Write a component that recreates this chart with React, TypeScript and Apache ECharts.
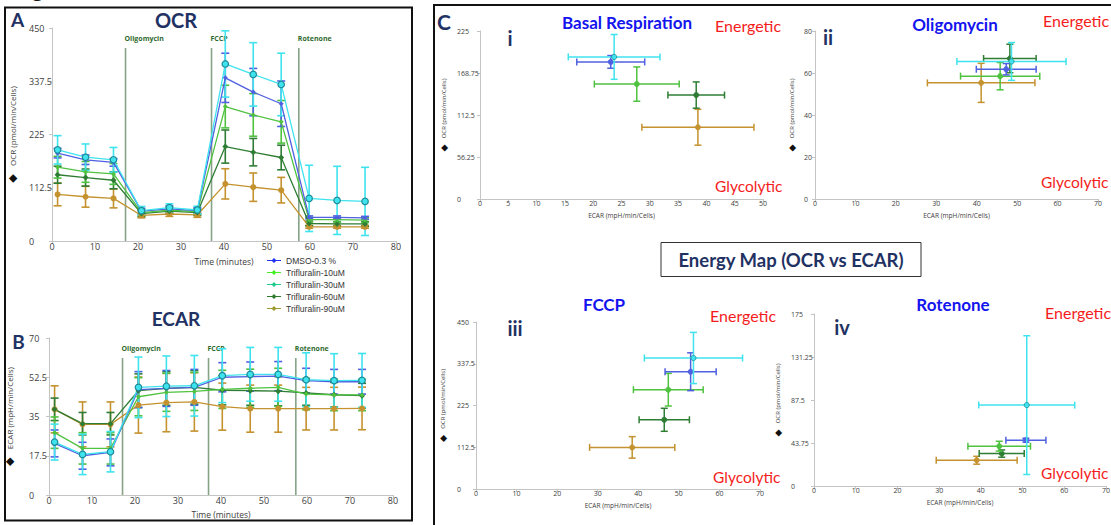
import React, { useEffect, useRef } from "react";
import * as echarts from "echarts";

// ---------- data ----------
const GROUPS = ["DMSO-0.3 %", "Trifluralin-10uM", "Trifluralin-30uM", "Trifluralin-60uM", "Trifluralin-90uM"];
const TIME = [1.3, 7.8, 14.3, 20.8, 27.3, 33.8, 40.3, 46.8, 53.3, 59.8, 66.3, 72.8];
const INJECTION_TIMES = [17.1, 37.1, 57.4];
const INJECTION_NAMES = ["Oligomycin", "FCCP", "Rotenone"];

const OCR_DMSO = [185.6, 171.6, 166, 63, 68, 64, 344.7, 314.6, 290, 50, 50, 49];
const OCR_10 = [156, 146, 141.7, 60, 65, 62, 284, 266.4, 251.8, 45, 45, 44];
const OCR_30 = [192.6, 177, 171.6, 64, 70.5, 65.5, 374, 352, 330.7, 90, 85.8, 83.7];
const OCR_60 = [140, 134, 128.3, 58, 63, 60, 199.5, 187.7, 176.4, 37, 36, 36];
const OCR_90 = [98.4, 93.5, 90, 54, 57, 55, 120.7, 113.7, 107.4, 30, 30, 30];

const OCR_ERR_DMSO = [10, 10, 8, 6, 6, 6, 52, 50, 48, 3, 3, 3];
const OCR_ERR_10 = [23, 22, 22, 6, 6, 6, 45, 45, 45, 5, 5, 5];
const OCR_ERR_30 = [30, 28, 26, 9, 8, 8, 70, 67, 66, 70, 72, 72];
const OCR_ERR_60 = [18, 18, 18, 6, 6, 6, 35, 29, 26, 5, 5, 5];
const OCR_ERR_90 = [24, 22, 20, 5, 5, 5, 32, 30, 27, 3, 3, 3];

const ECAR_DMSO = [23, 17.5, 19, 47, 47.5, 48, 52.5, 52.8, 53, 51, 50.5, 50.5];
const ECAR_10 = [27.8, 20.8, 20.8, 43.8, 45.8, 46.2, 47.1, 47.6, 48, 45, 44.6, 44.6];
const ECAR_30 = [23.6, 18.1, 19.3, 48, 48.5, 48.7, 53.2, 53.8, 53.8, 51.4, 51, 51.1];
const ECAR_60 = [38.2, 31.8, 31.8, 46.5, 47.5, 48, 46.7, 46.5, 46.3, 45.5, 44.7, 44.3];
const ECAR_90 = [38.2, 31.5, 31.5, 40.1, 41.2, 41.5, 39.4, 38.5, 38.5, 38.5, 38.5, 38.6];

const ECAR_ERR_DMSO = [6, 6, 6, 8, 8, 8, 6.5, 6.5, 6.5, 5.5, 5.5, 5.5];
const ECAR_ERR_10 = [7, 7, 7, 8.5, 8.5, 8.5, 8.5, 8.5, 8.5, 7, 7, 7];
const ECAR_ERR_30 = [8, 9, 9, 13.5, 13.5, 13.5, 12, 12, 12, 12, 12, 12];
const ECAR_ERR_60 = [5, 5, 5, 7.5, 7.5, 7.5, 6.5, 6.5, 6.5, 5.5, 5.5, 5.5];
const ECAR_ERR_90 = [10.5, 10, 10, 12.5, 13, 13, 10.5, 10.5, 10.5, 9.5, 9.5, 9.5];

// Energy map (group order as GROUPS)
const BASAL_ECAR = [23.1, 27.7, 23.7, 38.2, 38.5];
const BASAL_OCR = [183.6, 153.9, 190.3, 139.2, 96.1];
const BASAL_ECAR_ERR = [6, 7.5, 8.1, 5, 9.9];
const BASAL_OCR_ERR = [8.5, 23, 30, 17.6, 24];

const OLIGO_ECAR = [47.3, 45.8, 48.6, 48.2, 41.1];
const OLIGO_OCR = [61.8, 58.5, 65.5, 66.9, 55.3];
const OLIGO_ECAR_ERR = [7.4, 9.8, 13.5, 6.5, 13.3];
const OLIGO_OCR_ERR = [2.7, 6.5, 9, 6.8, 9.3];

const FCCP_ECAR = [52.9, 47.4, 53.6, 46.4, 38.5];
const FCCP_OCR = [316, 267.6, 353, 186.5, 112.1];
const FCCP_ECAR_ERR = [6.3, 8.6, 12.1, 6.2, 10.5];
const FCCP_OCR_ERR = [51, 44, 69, 31, 29];

const ROT_ECAR = [50.8, 44.4, 51, 45, 39];
const ROT_OCR = [46.6, 40.5, 82.3, 33, 26.2];
const ROT_ECAR_ERR = [4.8, 7.5, 11.5, 5.4, 9.7];
const ROT_OCR_ERR = [2, 5, 70.6, 3.7, 4];

const OCR_SERIES = [OCR_DMSO, OCR_10, OCR_30, OCR_60, OCR_90];
const OCR_ERRS = [OCR_ERR_DMSO, OCR_ERR_10, OCR_ERR_30, OCR_ERR_60, OCR_ERR_90];
const ECAR_SERIES = [ECAR_DMSO, ECAR_10, ECAR_30, ECAR_60, ECAR_90];
const ECAR_ERRS = [ECAR_ERR_DMSO, ECAR_ERR_10, ECAR_ERR_30, ECAR_ERR_60, ECAR_ERR_90];

// ---------- styles ----------
const COLORS = ["#4f60e0", "#4fc240", "#3fe3ee", "#2f7d34", "#c4922e"];
const LEGEND_COLORS = ["#2233ee", "#44ee22", "#22c98c", "#2d7a2d", "#9c9a2e"];
const SYMBOLS = ["diamond", "diamond", "circle", "diamond", "circle"];
const SYMBOL_SIZES = [5, 5, 6.5, 6, 6];
const DRAW_ORDER = [4, 3, 1, 0, 2];
const NAVY = "#1f3263";
const TITLE_BLUE = "#1414ee";
const RED = "#f41c1c";
const EVENT_GREEN = "#2f6b2f";
const FONT = "Open Sans";
const TFONT = "Lato";
const LEGEND_ICON = "path://M0,3.4 H14 V4.6 H0 Z M7,1.5 L9.5,4 L7,6.5 L4.5,4 Z";

const vErr = (color: string, cap: number) => (params: any, api: any) => {
  const x = api.value(0), y = api.value(1), e = api.value(2);
  const p1 = api.coord([x, y + e]);
  const p2 = api.coord([x, y - e]);
  const st = { stroke: color, lineWidth: 1.6 };
  return {
    type: "group",
    children: [
      { type: "line", shape: { x1: p1[0], y1: p1[1], x2: p2[0], y2: p2[1] }, style: st },
      { type: "line", shape: { x1: p1[0] - cap, y1: p1[1], x2: p1[0] + cap, y2: p1[1] }, style: st },
      { type: "line", shape: { x1: p2[0] - cap, y1: p2[1], x2: p2[0] + cap, y2: p2[1] }, style: st },
    ],
  };
};

const xyErr = (color: string, stroke: string) => (params: any, api: any) => {
  const x = api.value(0), y = api.value(1), ex = api.value(2), ey = api.value(3);
  const c = api.coord([x, y]);
  const l = api.coord([x - ex, y]);
  const r = api.coord([x + ex, y]);
  const t = api.coord([x, y + ey]);
  const b = api.coord([x, y - ey]);
  const cap = 3.5;
  const st = { stroke: color, lineWidth: 1.5 };
  return {
    type: "group",
    children: [
      { type: "line", shape: { x1: l[0], y1: l[1], x2: r[0], y2: r[1] }, style: st },
      { type: "line", shape: { x1: l[0], y1: l[1] - cap, x2: l[0], y2: l[1] + cap }, style: st },
      { type: "line", shape: { x1: r[0], y1: r[1] - cap, x2: r[0], y2: r[1] + cap }, style: st },
      { type: "line", shape: { x1: t[0], y1: t[1], x2: b[0], y2: b[1] }, style: st },
      { type: "line", shape: { x1: t[0] - cap, y1: t[1], x2: t[0] + cap, y2: t[1] }, style: st },
      { type: "line", shape: { x1: b[0] - cap, y1: b[1], x2: b[0] + cap, y2: b[1] }, style: st },
      { type: "circle", shape: { cx: c[0], cy: c[1], r: 2.6 }, style: { fill: color, stroke, lineWidth: 0.8 } },
    ],
  };
};

const eventsRender = (params: any, api: any) => {
  const t = api.value(0);
  const cs = params.coordSys;
  const p = api.coord([t, 0]);
  const topY = cs.y + 20;
  return {
    type: "group",
    children: [
      { type: "line", shape: { x1: p[0], y1: p[1], x2: p[0], y2: topY }, style: { stroke: "#86a386", lineWidth: 1.6 } },
      {
        type: "text",
        x: p[0] - 1,
        y: topY - 10,
        style: {
          text: INJECTION_NAMES[params.dataIndex],
          fontSize: 7,
          fontWeight: "bold",
          fill: EVENT_GREEN,
          align: "left",
          verticalAlign: "middle",
          fontFamily: FONT,
        },
      },
    ],
  };
};

const axisBase = {
  axisLine: { show: true, lineStyle: { color: "#c4c4c4", width: 1 } },
  axisTick: { show: true, length: 3, lineStyle: { color: "#c4c4c4" } },
  splitLine: { show: false },
  nameLocation: "middle",
};

function xAx(gridIndex: number, max: number, interval: number, fs: number, name: string, gap: number) {
  return {
    ...axisBase,
    type: "value",
    gridIndex,
    min: 0,
    max,
    interval,
    name,
    nameGap: gap,
    nameTextStyle: { fontSize: fs, color: "#404040", fontFamily: FONT },
    axisLabel: { color: "#404040", fontSize: fs + 0.5, margin: 1, fontFamily: FONT },
  };
}
function yAx(gridIndex: number, max: number, interval: number, fs: number, name: string, gap: number, margin: number) {
  return {
    ...axisBase,
    type: "value",
    gridIndex,
    min: 0,
    max,
    interval,
    name,
    nameGap: gap,
    nameTextStyle: {
      fontSize: fs - 0.5,
      color: "#404040",
      fontFamily: FONT,
      rich: { d: { fontSize: fs + 2.5, color: "#111", fontFamily: "DejaVu Sans" } },
    },
    axisLabel: { color: "#404040", fontSize: fs + 0.5, margin, align: "left", fontFamily: FONT },
  };
}

function txt(text: string, x: number, y: number, size: number, color: string, weight = "bold", align = "center", family = TFONT) {
  return {
    type: "text",
    x,
    y,
    silent: true,
    style: { text, fontSize: size, fontWeight: weight, fill: color, align, verticalAlign: "middle", fontFamily: family },
  };
}

export default function App() {
  const ref = useRef<HTMLDivElement>(null);
  useEffect(() => {
    if (!ref.current) return;
    const chart = echarts.init(ref.current, null, { renderer: "svg" });

    const series: any[] = [];
    DRAW_ORDER.forEach((gi) => {
      const color = COLORS[gi];
      const border = gi === 2 ? "#1d8b99" : color;
      const lineCommon = {
        type: "line",
        name: GROUPS[gi],
        symbol: SYMBOLS[gi],
        symbolSize: SYMBOL_SIZES[gi],
        showSymbol: true,
        lineStyle: { color, width: 1.3 },
        itemStyle: { color, borderColor: border, borderWidth: gi === 2 ? 1.2 : 0 },
        silent: true,
        z: 3,
      };
      series.push({
        ...lineCommon,
        xAxisIndex: 0,
        yAxisIndex: 0,
        data: TIME.map((t, i) => [t, OCR_SERIES[gi][i]]),
      });
      series.push({
        type: "custom",
        name: GROUPS[gi],
        xAxisIndex: 0,
        yAxisIndex: 0,
        silent: true,
        z: 2,
        renderItem: vErr(color, 4),
        encode: { x: 0, y: 1 },
        data: TIME.map((t, i) => [t, OCR_SERIES[gi][i], OCR_ERRS[gi][i]]),
      });
      series.push({
        ...lineCommon,
        xAxisIndex: 1,
        yAxisIndex: 1,
        data: TIME.map((t, i) => [t, ECAR_SERIES[gi][i]]),
      });
      series.push({
        type: "custom",
        name: GROUPS[gi],
        xAxisIndex: 1,
        yAxisIndex: 1,
        silent: true,
        z: 2,
        renderItem: vErr(color, 4),
        encode: { x: 0, y: 1 },
        data: TIME.map((t, i) => [t, ECAR_SERIES[gi][i], ECAR_ERRS[gi][i]]),
      });
      const maps = [
        [BASAL_ECAR, BASAL_OCR, BASAL_ECAR_ERR, BASAL_OCR_ERR],
        [OLIGO_ECAR, OLIGO_OCR, OLIGO_ECAR_ERR, OLIGO_OCR_ERR],
        [FCCP_ECAR, FCCP_OCR, FCCP_ECAR_ERR, FCCP_OCR_ERR],
        [ROT_ECAR, ROT_OCR, ROT_ECAR_ERR, ROT_OCR_ERR],
      ];
      maps.forEach((m, k) => {
        series.push({
          type: "custom",
          name: GROUPS[gi],
          xAxisIndex: 2 + k,
          yAxisIndex: 2 + k,
          silent: true,
          z: 2,
          renderItem: xyErr(color, border),
          encode: { x: 0, y: 1 },
          data: [[m[0][gi], m[1][gi], m[2][gi], m[3][gi]]],
        });
      });
    });
    [0, 1].forEach((ax) => {
      series.push({
        type: "custom",
        name: "injections",
        xAxisIndex: ax,
        yAxisIndex: ax,
        silent: true,
        z: 1,
        clip: false,
        renderItem: eventsRender,
        encode: { x: 0, y: 1 },
        data: INJECTION_TIMES.map((t) => [t, 0]),
      });
    });

    const graphic: any[] = [
      { type: "rect", silent: true, shape: { x: 5, y: 7.5, width: 407, height: 513 }, style: { fill: "none", stroke: "#111", lineWidth: 2 } },
      { type: "rect", silent: true, shape: { x: 434, y: 5, width: 700, height: 540 }, style: { fill: "none", stroke: "#111", lineWidth: 2 } },
      { type: "rect", silent: true, shape: { x: 661, y: 242.5, width: 260, height: 34 }, style: { fill: "none", stroke: "#333", lineWidth: 1 } },
      { type: "text", silent: true, x: 10, y: -1.5, style: { text: "Figure", fontSize: 26, fill: "#111", fontFamily: TFONT, align: "left", verticalAlign: "bottom" } },
      txt("A", 17.5, 19, 19, NAVY),
      txt("OCR", 176, 20, 20, NAVY),
      txt("B", 18.5, 341, 19, NAVY),
      txt("ECAR", 176, 318, 19, NAVY),
      txt("C", 444, 21, 21, NAVY),
      txt("Energy Map (OCR vs ECAR)", 791, 260, 18.5, NAVY),
      txt("Basal Respiration", 627, 22, 17, TITLE_BLUE),
      txt("Oligomycin", 955, 24, 17, TITLE_BLUE),
      txt("FCCP", 604, 304, 17, TITLE_BLUE),
      txt("Rotenone", 953, 304, 17, TITLE_BLUE),
      txt("Energetic", 715, 25, 16, RED, "normal", "left"),
      txt("Energetic", 1043, 20, 16, RED, "normal", "left"),
      txt("Energetic", 710, 315, 16, RED, "normal", "left"),
      txt("Energetic", 1045, 312, 16, RED, "normal", "left"),
      txt("Glycolytic", 715, 186, 15.5, RED, "normal", "left"),
      txt("Glycolytic", 1041, 182, 15.5, RED, "normal", "left"),
      txt("Glycolytic", 713, 477, 15.5, RED, "normal", "left"),
      txt("Glycolytic", 1041, 473, 15.5, RED, "normal", "left"),
      txt("i", 510, 38, 20, NAVY),
      txt("ii", 828, 37, 20, NAVY),
      txt("iii", 515, 328, 20, NAVY),
      txt("iv", 842, 327, 20, NAVY),
    ];

    const ocrName = "{d|\u25C6}    OCR (pmol/min/Cells)";
    const ecarName = "{d|\u25C6}    ECAR (mpH/min/Cells)";

    chart.setOption({
      animation: false,
      backgroundColor: "#ffffff",
      textStyle: { fontFamily: FONT },
      grid: [
        { left: 52, top: 28, width: 344, height: 213, outerBoundsMode: "none" },
        { left: 49, top: 338, width: 344, height: 157, outerBoundsMode: "none" },
        { left: 480, top: 31, width: 283, height: 168, outerBoundsMode: "none" },
        { left: 815, top: 31, width: 283, height: 168, outerBoundsMode: "none" },
        { left: 476, top: 322, width: 284, height: 167, outerBoundsMode: "none" },
        { left: 814, top: 314, width: 292, height: 172, outerBoundsMode: "none" },
      ],
      xAxis: [
        xAx(0, 80, 10, 8.5, "Time (minutes)", 16),
        xAx(1, 80, 10, 8.5, "Time (minutes)", 15),
        xAx(2, 50, 5, 6.5, "ECAR (mpH/min/Cells)", 13),
        xAx(3, 70, 10, 6.5, "ECAR (mpH/min/Cells)", 13),
        xAx(4, 70, 10, 6.5, "ECAR (mpH/min/Cells)", 13),
        xAx(5, 70, 10, 6.5, "ECAR (mpH/min/Cells)", 13),
      ],
      yAxis: [
        yAx(0, 450, 112.5, 8.5, ocrName, 34, 23),
        yAx(1, 70, 17.5, 8.5, ecarName, 34, 20),
        yAx(2, 225, 56.25, 6.5, ocrName, 32, 23),
        yAx(3, 80, 20, 6.5, ocrName, 19, 11),
        yAx(4, 450, 112.5, 6.5, ocrName, 29, 19),
        yAx(5, 175, 43.75, 6.5, ocrName, 32, 23),
      ],
      legend: {
        orient: "vertical",
        left: 262,
        top: 251,
        itemWidth: 14,
        itemHeight: 7,
        itemGap: 3,
        selectedMode: false,
        textStyle: { fontSize: 8.5, color: "#333", fontFamily: "Liberation Sans" },
        data: GROUPS.map((g, i) => ({
          name: g,
          icon: LEGEND_ICON,
          itemStyle: { color: LEGEND_COLORS[i], borderColor: LEGEND_COLORS[i], borderWidth: 0 },
        })),
      },
      graphic,
      series,
    });
    return () => chart.dispose();
  }, []);
  return (
    <div
      ref={ref}
      style={{ position: "fixed", left: 0, top: 0, width: 1111, height: 525, background: "#fff" }}
    />
  );
}
